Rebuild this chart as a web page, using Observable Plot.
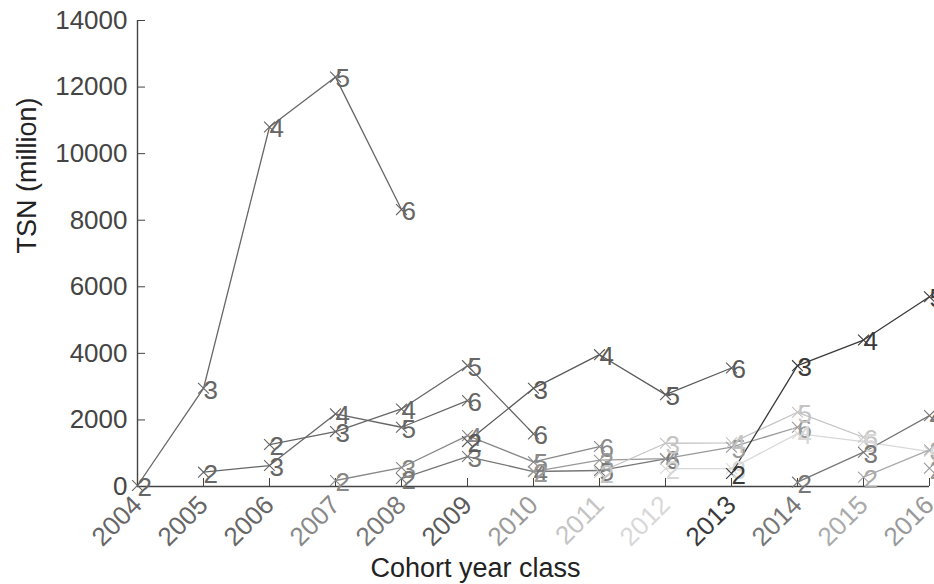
<!DOCTYPE html>
<html>
<head>
<meta charset="utf-8">
<script src="https://cdn.jsdelivr.net/npm/d3@7"></script>
<script src="https://cdn.jsdelivr.net/npm/@observablehq/plot@0.6"></script>
<style>
  html, body { margin: 0; padding: 0; background: white; }
  #chart { width: 934px; height: 584px; overflow: hidden; }
</style>
</head>
<body>
<div id="chart"></div>
<script>
// Cohort year classes (x axis) and their grey shade
const years = [2004, 2005, 2006, 2007, 2008, 2009, 2010, 2011, 2012, 2013, 2014, 2015, 2016];
const cohortColors = ["#666", "#666", "#666", "#888", "#777", "#5a5a5a", "#999", "#c4c4c4", "#d8d8d8", "#3a3a3a", "#777", "#aaa", "#999"];

// Ages labelled at each point
const ages = [2, 3, 4, 5, 6];

// TSN (million) per cohort, by age 2..6 (plotted at cohort + age - 2)
const c2004 = [30, 2950, 10800, 12300, 8320];
const c2005 = [430, 630, 2180, 1780, 2580];
const c2006 = [1260, 1650, 2330, 3630, 1580];
const c2007 = [180, 570, 1530, 740, 1200];
const c2008 = [240, 900, 450, 480, 830];
const c2009 = [1350, 2950, 3960, 2760, 3560];
const c2010 = [450, 790, 840, 1180, 1780];
const c2011 = [420, 1300, 1310, 2230, 1480];
const c2012 = [540, 540, 1590, 1350, 1050];
const c2013 = [390, 3630, 4400, 5700];
const c2014 = [130, 1030, 2130];
const c2015 = [280, 1100];
const c2016 = [550];

const cohortValues = [c2004, c2005, c2006, c2007, c2008, c2009, c2010, c2011, c2012, c2013, c2014, c2015, c2016];

// Y axis ticks
const yTicks = [0, 2000, 4000, 6000, 8000, 10000, 12000, 14000];

// Build point table
const points = [];
cohortValues.forEach((vals, i) => {
  vals.forEach((v, j) => {
    points.push({
      cohort: years[i],
      year: years[i] + ages[j] - 2,
      age: ages[j],
      value: v,
      color: cohortColors[i]
    });
  });
});
const colorOf = (y) => cohortColors[years.indexOf(y)];

const chart = Plot.plot({
  width: 934,
  height: 584,
  marginLeft: 137,
  marginRight: 5,
  marginTop: 20,
  marginBottom: 98,
  style: { fontFamily: "'Liberation Sans', Arial, sans-serif", fontSize: "26px", background: "white", overflow: "visible" },
  x: { domain: [2004, 2016] },
  y: { domain: [0, 14000] },
  color: { type: "identity" },
  marks: [
    Plot.axisY(yTicks, { tickSize: -8, tickPadding: 18, color: "#444", fontSize: 26, label: null, tickFormat: d => String(d) }),
    Plot.axisX(years, { tickSize: -8, tickFormat: () => "", color: "#444", label: null }),
    Plot.ruleX([2004], { stroke: "#444", strokeWidth: 1.4 }),
    Plot.ruleY([0], { stroke: "#444", strokeWidth: 1.4 }),
    Plot.line(points, { x: "year", y: "value", z: "cohort", stroke: "color", strokeWidth: 1.3 }),
    Plot.dot(points, { x: "year", y: "value", symbol: "times", r: 5, stroke: "color", strokeWidth: 1.1 }),
    Plot.text(points, { x: "year", y: "value", text: d => String(d.age), fill: "color", textAnchor: "start", fontSize: 26, dy: 2 }),
    Plot.text(years, { x: d => d, frameAnchor: "bottom", text: d => String(d), rotate: -45, textAnchor: "end", fill: d => colorOf(d), fontSize: 26, dx: 6, dy: 20 }),
    Plot.text(["TSN (million)"], { frameAnchor: "left", rotate: -90, dx: -110, fontSize: 27, fill: "#222" }),
    Plot.text(["Cohort year class"], { frameAnchor: "bottom", dx: -58, dy: 90, fontSize: 27, fill: "#222" })
  ]
});
document.getElementById("chart").appendChild(chart);
</script>
</body>
</html>
